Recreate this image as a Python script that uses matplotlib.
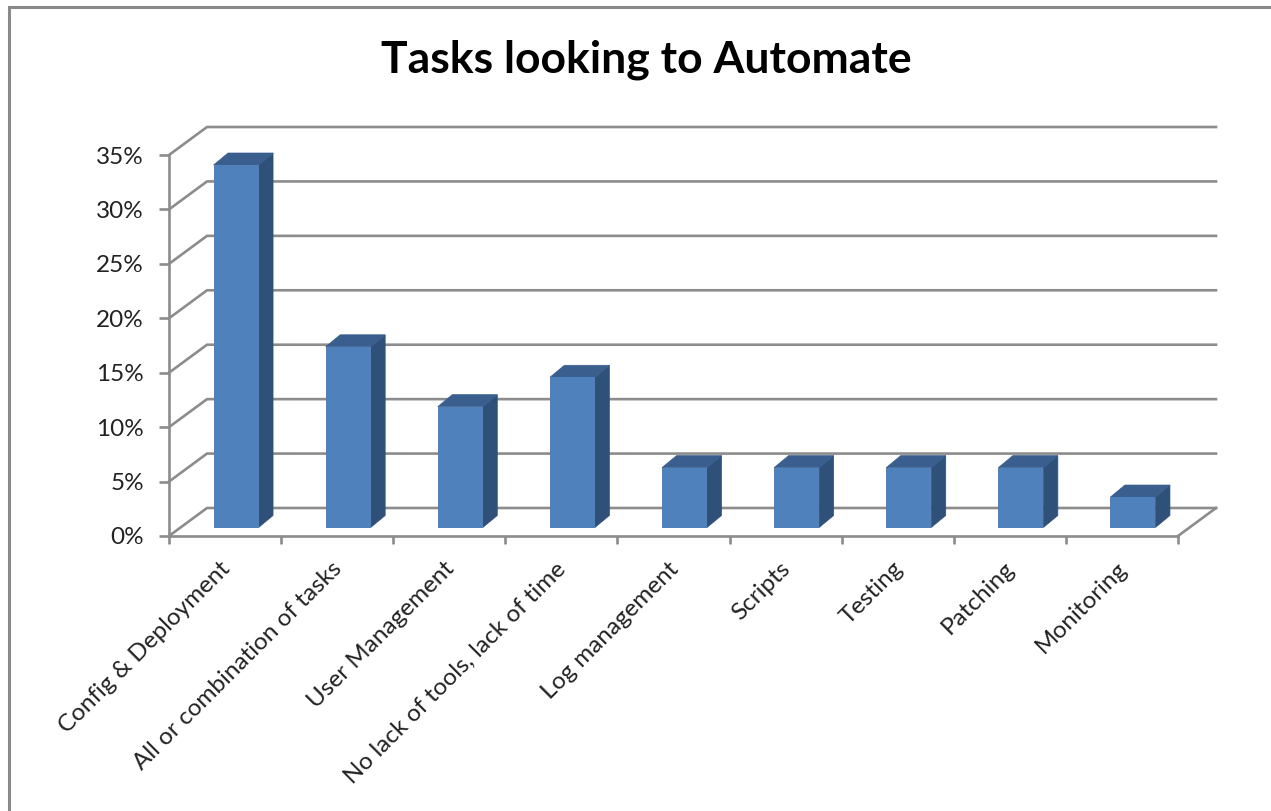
import matplotlib
matplotlib.use("Agg")
import matplotlib.pyplot as plt
from matplotlib.lines import Line2D
from matplotlib.patches import Polygon
from matplotlib.transforms import ScaledTranslation

# tasks and share of answers
tasks = ["Config & Deployment", "All or combination of tasks", "User Management",
         "No lack of tools, lack of time", "Log management", "Scripts",
         "Testing", "Patching", "Monitoring"]
shares = [33.3, 16.6, 11.1, 13.8, 5.5, 5.5, 5.5, 5.5, 2.8]
y_ticks = [0, 5, 10, 15, 20, 25, 30, 35]
y_labels = ["0%", "5%", "10%", "15%", "20%", "25%", "30%", "35%"]

W, H = 1271, 811
GRID = "#8c8c8c"
FRONT = "#4f81bd"
TOP = "#3a5f8f"
SIDE = "#2f5179"

plt.rcParams["font.family"] = ["Lato", "DejaVu Sans"]

fig = plt.figure(figsize=(W / 100, H / 100), dpi=100)
ax = fig.add_axes([169 / W, 1 - 536 / H, (1178 - 169) / W, (536 - 155) / H])
ax.set_xlim(0, len(tasks))
ax.set_ylim(0, 35)

# fake 3d depth in data units
wall_dx, wall_dy = 38 / 112.1, 28 / 10.886
bar_dx, bar_dy = 14.5 / 112.1, 12 / 10.886
base_dx, base_dy = 11 / 112.1, 8.5 / 10.886
bar_w = 45 / 112.1

for t in y_ticks:
    ax.plot([0, wall_dx, len(tasks) + wall_dx], [t, t + wall_dy, t + wall_dy],
            color=GRID, lw=1.9, clip_on=False, zorder=1, solid_joinstyle="miter")
ax.plot([len(tasks), len(tasks) + wall_dx], [0, wall_dy], color=GRID, lw=1.9,
        clip_on=False, zorder=1)

for i, v in enumerate(shares):
    x0 = i + 0.5 + base_dx - bar_w / 2
    x1 = x0 + bar_w
    y0 = base_dy
    y1 = y0 + v
    ax.add_patch(Polygon([(x1, y0), (x1 + bar_dx, y0 + bar_dy), (x1 + bar_dx, y1 + bar_dy), (x1, y1)],
                         fc=SIDE, ec=SIDE, lw=0.5, clip_on=False, zorder=3))
    ax.add_patch(Polygon([(x0, y1), (x1, y1), (x1 + bar_dx, y1 + bar_dy), (x0 + bar_dx, y1 + bar_dy)],
                         fc=TOP, ec=TOP, lw=0.5, clip_on=False, zorder=3))
    ax.add_patch(Polygon([(x0, y0), (x1, y0), (x1, y1), (x0, y1)], fc=FRONT,
                         ec="none", clip_on=False, zorder=3))

for side in ["top", "right"]:
    ax.spines[side].set_visible(False)
for side in ["left", "bottom"]:
    ax.spines[side].set_color(GRID)
    ax.spines[side].set_linewidth(1.9)
    ax.spines[side].set_zorder(4)

ax.set_yticks(y_ticks)
ax.set_yticklabels(y_labels, fontsize=17.5, color="#222222")
ax.tick_params(axis="y", length=7, width=1.9, color=GRID, pad=11)
ax.set_xticks(range(len(tasks) + 1))
ax.set_xticklabels([])
ax.tick_params(axis="x", length=6, width=1.9, color=GRID)
ax.set_xticks([i + 0.5 for i in range(len(tasks))], minor=True)
ax.set_xticklabels(tasks, minor=True, rotation=45, ha="right", va="top",
                   rotation_mode="anchor", fontsize=17.5, color="#222222")
ax.tick_params(axis="x", which="minor", length=0, pad=13)
# nudge the slanted labels left and down
nudge = ScaledTranslation(-6 / 100, -4 / 100, fig.dpi_scale_trans)
for lab in ax.get_xticklabels(minor=True):
    lab.set_transform(lab.get_transform() + nudge)

fig.text(646 / W, 1 - 60 / H, "Tasks looking to Automate", ha="center", va="center",
         fontsize=32, fontweight="bold", color="black")

# outer chart frame, cut off at right and bottom in the reference
fig.add_artist(Line2D([9 / W, 9 / W, 1], [0, 1 - 7 / H, 1 - 7 / H], color="#8a8a8a", lw=2.2,
                      transform=fig.transFigure, solid_joinstyle="miter"))

fig.savefig("out.png", dpi=100)
